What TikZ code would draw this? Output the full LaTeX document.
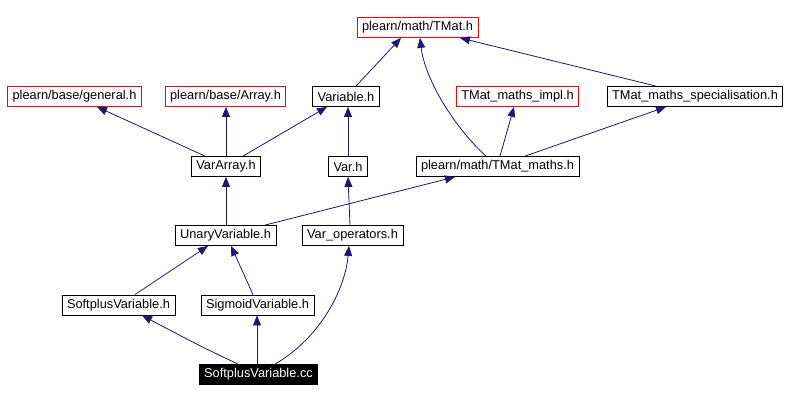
\documentclass[tikz,border=0pt]{standalone}
\usepackage{fontspec}
\setmainfont{Liberation Sans}
\definecolor{edgeblue}{RGB}{25, 25, 112}
\usetikzlibrary{arrows.meta, positioning}

\begin{document}
\begin{tikzpicture}[x=1pt, y=-1pt, >={Triangle[length=10pt,width=8pt]},
    file/.style={draw=black, fill=white, line width=0.8pt, inner xsep=5pt, inner ysep=0pt,
      minimum height=20pt, font=\fontsize{12.8}{14}\selectfont},
    missing/.style={file, draw=red},
    root/.style={file, fill=black, text=white},
    dep/.style={->, edgeblue, line width=0.8pt}]
  \useasboundingbox (0,0) rectangle (790,401);

  % Top row
  \node (tmat) [missing] at (417.5, 27.5) {plearn/math/TMat.h};

  % Second row
  \node (general) [missing] at (74.5, 96.5) {plearn/base/general.h};
  \node (array) [missing] at (225.5, 96.5) {plearn/base/Array.h};
  \node (variable) [file] at (346, 96.5) {Variable.h};
  \node (mathsimpl) [missing] at (517.5, 96.5) {TMat\_maths\_impl.h};
  \node (mathsspec) [file] at (695, 96.5) {TMat\_maths\_specialisation.h};

  % Third row
  \node (vararray) [file] at (226, 166.5) {VarArray.h};
  \node (var) [file] at (348, 166.5) {Var.h};
  \node (tmatmaths) [file] at (497.5, 166.5) {plearn/math/TMat\_maths.h};

  % Fourth row
  \node (unary) [file] at (225.5, 235.5) {UnaryVariable.h};
  \node (varops) [file] at (352.5, 235.5) {Var\_operators.h};

  % Fifth row
  \node (softplush) [file] at (118.5, 305) {SoftplusVariable.h};
  \node (sigmoid) [file] at (257.5, 305) {SigmoidVariable.h};

  % Source file
  \node (softpluscc) [root] at (258.5, 374.5) {SoftplusVariable.cc};

  % Include edges
  \draw[dep] (variable.north -| 356,0) -- (tmat.south -| 401,0);
  \draw[dep] (tmatmaths.north -| 486,0) .. controls (455,128) and (425,80) .. (tmat.south -| 420,0);
  \draw[dep] (tmatmaths.north -| 500,0) -- (mathsimpl.south -| 514,0);
  \draw[dep] (tmatmaths.north -| 525,0) -- (mathsspec.south -| 666,0);
  \draw[dep] (mathsspec.north -| 656,0) -- (tmat.south -| 460,0);

  \draw[dep] (vararray.north -| 205,0) -- (general.south -| 97,0);
  \draw[dep] (vararray.north) -- (array.south -| 226,0);
  \draw[dep] (vararray.north -| 243,0) -- (variable.south -| 327,0);
  \draw[dep] (var.north) -- (variable.south -| 348,0);

  \draw[dep] (unary.north -| 226,0) -- (vararray.south);
  \draw[dep] (unary.north -| 265,0) -- (tmatmaths.south -| 455,0);
  \draw[dep] (varops.north -| 350,0) -- (var.south);

  \draw[dep] (softplush.north -| 135,0) -- (unary.south -| 208,0);
  \draw[dep] (sigmoid.north -| 253,0) -- (unary.south -| 231,0);

  \draw[dep] (softpluscc.north -| 238,0) .. controls (200,346) .. (softplush.south -| 142,0);
  \draw[dep] (softpluscc.north -| 257,0) -- (sigmoid.south -| 257,0);
  \draw[dep] (softpluscc.north -| 275,0) .. controls (320,338) and (345,290) .. (varops.south -| 349,0);
\end{tikzpicture}
\end{document}
